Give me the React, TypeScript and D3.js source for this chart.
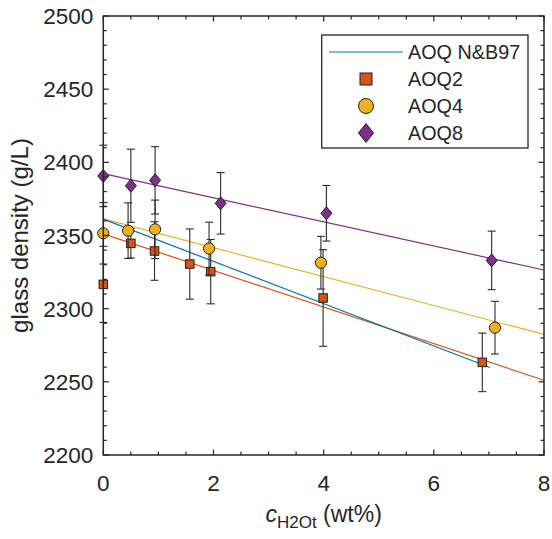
import React from "react";
import * as d3 from "d3";

const W = 552;
const H = 539;

// AOQ2 (squares)
const aoq2X = [0, 0.5, 0.93, 1.57, 1.95, 3.99, 6.88];
const aoq2Y = [2316.6, 2344.6, 2339.4, 2330.5, 2325.3, 2307.3, 2263.3];
const aoq2Err = [26, 10, 20, 24, 22, 33, 20];

// AOQ4 (circles)
const aoq4X = [0, 0.45, 0.94, 1.92, 3.95, 7.11];
const aoq4Y = [2351.5, 2353.3, 2354.2, 2341.1, 2331.4, 2287.0];
const aoq4Err = [21, 19, 20, 18, 18, 18];

// AOQ8 (diamonds)
const aoq8X = [0, 0.5, 0.94, 2.13, 4.05, 7.05];
const aoq8Y = [2390.7, 2384.0, 2387.7, 2372.0, 2365.2, 2333.0];
const aoq8Err = [21, 25, 23, 21, 19, 20];

// fitted lines (end points)
const lineNB97 = [[0, 2361.2], [7.02, 2259.8]];
const lineAOQ2 = [[0, 2351.1], [8, 2251.1]];
const lineAOQ4 = [[0, 2361.4], [8, 2282.4]];
const lineAOQ8 = [[0, 2392.3], [8, 2326.4]];

const xTicks = [0, 2, 4, 6, 8];
const yTicks = [2200, 2250, 2300, 2350, 2400, 2450, 2500];
const legendLabels = ["AOQ N&B97", "AOQ2", "AOQ4", "AOQ8"];

const C_BLUE = "#0072BD";
const C_RED = "#D95319";
const C_YEL = "#EDB120";
const C_PUR = "#7E2F8E";
const AX = "#262626";
const FONT = "'Liberation Sans', Arial, Helvetica, sans-serif";

const L = 103.3, R = 544, T = 16, B = 455;

export default function App() {
  const x = d3.scaleLinear().domain([0, 8]).range([L, R]);
  const y = d3.scaleLinear().domain([2200, 2500]).range([B, T]);
  const line = d3.line<number[]>().x((d) => x(d[0])).y((d) => y(d[1]));

  const xMinor = d3.range(0, 8.001, 0.5);
  const yMinor = d3.range(2200, 2500.01, 10);

  const errBars = (xs: number[], ys: number[], es: number[], key: string) =>
    xs.map((xv, i) => {
      const px = x(xv);
      const y1 = y(ys[i] + es[i]);
      const y2 = y(ys[i] - es[i]);
      return (
        <g key={key + i} stroke="#2a2a2a" strokeWidth={1.1}>
          <line x1={px} x2={px} y1={y1} y2={y2} />
          <line x1={px - 4} x2={px + 4} y1={y1} y2={y1} />
          <line x1={px - 4} x2={px + 4} y1={y2} y2={y2} />
        </g>
      );
    });

  const square = (cx: number, cy: number, s: number, key: string) => (
    <rect key={key} x={cx - s / 2} y={cy - s / 2} width={s} height={s} fill={C_RED} stroke="#222" strokeWidth={1} />
  );
  const circle = (cx: number, cy: number, r: number, key: string) => (
    <circle key={key} cx={cx} cy={cy} r={r} fill={C_YEL} stroke="#222" strokeWidth={1} />
  );
  const diamond = (cx: number, cy: number, w: number, h: number, key: string) => (
    <path
      key={key}
      d={`M${cx},${cy - h / 2}L${cx + w / 2},${cy}L${cx},${cy + h / 2}L${cx - w / 2},${cy}Z`}
      fill={C_PUR}
      stroke="#222"
      strokeWidth={1}
    />
  );

  const lgX = 321.7, lgY = 35, lgW = 206.3, lgH = 113;
  const rowY = [52, 79, 106, 133];

  return (
    <svg width={W} height={H} style={{ position: "absolute", left: 0, top: 0, background: "#fff" }} fontFamily={FONT}>
      <rect x={0} y={0} width={W} height={H} fill="#fff" />
      {/* fitted lines */}
      <path d={line(lineAOQ8) || ""} stroke={C_PUR} strokeWidth={1.2} fill="none" />
      <path d={line(lineAOQ4) || ""} stroke={C_YEL} strokeWidth={1.2} fill="none" />
      <path d={line(lineAOQ2) || ""} stroke={C_RED} strokeWidth={1.2} fill="none" />
      <path d={line(lineNB97) || ""} stroke={C_BLUE} strokeWidth={1.2} fill="none" />

      {/* AOQ2 */}
      {errBars(aoq2X, aoq2Y, aoq2Err, "e2")}
      {aoq2X.map((xv, i) => square(x(xv), y(aoq2Y[i]), 8.5, "s" + i))}
      {/* AOQ4 */}
      {errBars(aoq4X, aoq4Y, aoq4Err, "e4")}
      {aoq4X.map((xv, i) => circle(x(xv), y(aoq4Y[i]), 5.6, "c" + i))}
      {/* AOQ8 */}
      {errBars(aoq8X, aoq8Y, aoq8Err, "e8")}
      {aoq8X.map((xv, i) => diamond(x(xv), y(aoq8Y[i]), 11, 13, "d" + i))}

      {/* axes box */}
      <rect x={L} y={T} width={R - L} height={B - T} fill="none" stroke={AX} strokeWidth={1.5} />
      {xMinor.map((v, i) => {
        const major = Math.abs(v - Math.round(v / 2) * 2) < 1e-6;
        const len = major ? 5.5 : 3.5;
        return (
          <g key={"xt" + i} stroke={AX} strokeWidth={1.2}>
            <line x1={x(v)} x2={x(v)} y1={B} y2={B - len} />
            <line x1={x(v)} x2={x(v)} y1={T} y2={T + len} />
          </g>
        );
      })}
      {yMinor.map((v, i) => {
        const major = Math.abs(v % 50) < 1e-6;
        const len = major ? 5.5 : 3.5;
        return (
          <g key={"yt" + i} stroke={AX} strokeWidth={1.2}>
            <line x1={L} x2={L + len} y1={y(v)} y2={y(v)} />
            <line x1={R} x2={R - len} y1={y(v)} y2={y(v)} />
          </g>
        );
      })}
      {xTicks.map((v) => (
        <text key={"xl" + v} x={x(v)} y={491} textAnchor="middle" fontSize={22.5} fill={AX}>
          {v}
        </text>
      ))}
      {yTicks.map((v) => (
        <text key={"yl" + v} x={L - 10} y={y(v) + 8} textAnchor="end" fontSize={22.5} fill={AX}>
          {v}
        </text>
      ))}

      {/* axis labels */}
      <text x={(L + R) / 2} y={522} textAnchor="middle" fontSize={23} fill={AX}>
        <tspan fontStyle="italic">c</tspan>
        <tspan fontSize={17} dy={6}>H2Ot</tspan>
        <tspan dy={-6}> (wt%)</tspan>
      </text>
      <text
        transform={`translate(28,${(T + B) / 2}) rotate(-90)`}
        textAnchor="middle"
        fontSize={24}
        fill={AX}
      >
        glass density (g/L)
      </text>

      {/* legend */}
      <rect x={lgX} y={lgY} width={lgW} height={lgH} fill="#fff" stroke={AX} strokeWidth={1.3} />
      <line x1={329} x2={403} y1={rowY[0]} y2={rowY[0]} stroke={C_BLUE} strokeWidth={1.2} />
      {square(366, rowY[1], 12, "lg1")}
      {circle(366, rowY[2], 7.5, "lg2")}
      {diamond(366, rowY[3], 15, 19, "lg3")}
      {legendLabels.map((t, i) => (
        <text key={"lt" + i} x={408} y={rowY[i] + 7} fontSize={19.8} fill={AX}>
          {t}
        </text>
      ))}
    </svg>
  );
}
